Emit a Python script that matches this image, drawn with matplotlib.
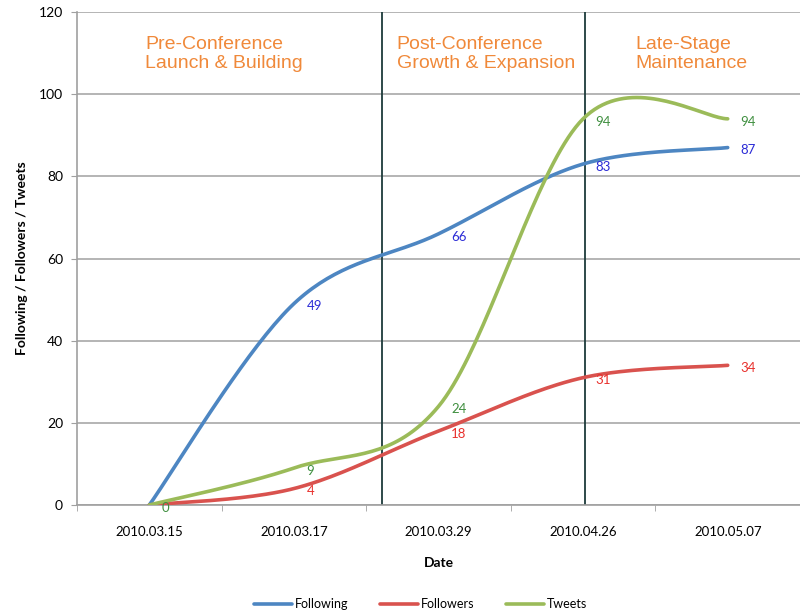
"""twitter account growth: following / followers / tweets by date"""

import numpy as np
import matplotlib
matplotlib.use("Agg")
import matplotlib.pyplot as plt


# data
dates = ["2010.03.15", "2010.03.17", "2010.03.29", "2010.04.26", "2010.05.07"]
following = [0, 49, 66, 83, 87]
followers = [0, 4, 18, 31, 34]
tweets = [0, 9, 24, 94, 94]
phase_names = ["Pre-Conference\nLaunch & Building",
               "Post-Conference\nGrowth & Expansion",
               "Late-Stage\nMaintenance"]
phase_breaks = [1.61, 3.01]
phase_text_x = [-0.03, 1.71, 3.36]


def excel_smooth(xs, ys, steps=40):
    # excel-like smoothed line: bezier segments with catmull-rom control points
    pts = np.column_stack([xs, ys]).astype(float)
    n = len(pts)
    out = []
    for i in range(n - 1):
        p0 = pts[max(i - 1, 0)]
        p1 = pts[i]
        p2 = pts[i + 1]
        p3 = pts[min(i + 2, n - 1)]
        c1 = p1 + (p2 - p0) / 6.0
        c2 = p2 - (p3 - p1) / 6.0
        t = np.linspace(0, 1, steps)[:, None]
        seg = ((1 - t) ** 3) * p1 + 3 * ((1 - t) ** 2) * t * c1 \
            + 3 * (1 - t) * t ** 2 * c2 + t ** 3 * p2
        out.append(seg if i == 0 else seg[1:])
    out = np.vstack(out)
    return out[:, 0], out[:, 1]


TICK_FONT = "Lato"
plt.rcParams["font.family"] = [TICK_FONT, "DejaVu Sans"]

fig = plt.figure(figsize=(8, 6.12), dpi=100)
ax = fig.add_axes([77 / 800, 1 - 505 / 612, 1 - 77 / 800, (505 - 12) / 612])

x = np.arange(len(dates))
series = [
    ("Following", following, "#4d86c2", "#2b2bd6"),
    ("Followers", followers, "#d9524e", "#e8302c"),
    ("Tweets", tweets, "#9bbb59", "#3f8f3f"),
]
for name, vals, color, lab_color in series:
    sx, sy = excel_smooth(x, vals)
    ax.plot(sx, sy, color=color, lw=2.6, label=name, solid_capstyle="round", zorder=3)

# data labels (right of point); the three zero labels overlap, only the green one shows
for name, vals, color, lab_color in series:
    for i, v in enumerate(vals):
        if i == 0 and name != "Tweets":
            continue
        ax.annotate(str(v), (x[i], v), xytext=(9, -2), textcoords="offset points",
                    ha="left", va="center", color=lab_color, fontsize=9.5, zorder=4)

for b in phase_breaks:
    ax.axvline(b, color="#1d3a3a", lw=1.3, zorder=2)

for tx, name in zip(phase_text_x, phase_names):
    ax.text(tx, 109.8, name, ha="left", va="center", color="#f0893a",
            fontsize=14, family="Liberation Sans", linespacing=1.1)

ax.set_xlim(-0.5, 4.46)
ax.set_ylim(0, 120)
ax.set_yticks(np.arange(0, 121, 20))
ax.set_xticks(x)
ax.set_xticklabels(dates, fontsize=9.5)
ax.set_xticks(np.arange(-0.5, 4.6, 1.0), minor=True)
ax.tick_params(axis="x", which="major", length=0, pad=15)
ax.tick_params(axis="x", which="minor", length=4, color="#a0a0a0")
ax.tick_params(axis="y", length=4, color="#a0a0a0", labelsize=10, pad=6)
ax.grid(axis="y", color="#a8a8a8", lw=1.2, zorder=1)
ax.set_axisbelow(True)
for s in ["top", "right"]:
    ax.spines[s].set_visible(False)
for s in ["left", "bottom"]:
    ax.spines[s].set_color("#a0a0a0")
    ax.spines[s].set_linewidth(1.2)

ax.set_xlabel("Date", fontsize=10, fontweight="bold", labelpad=14)
ax.set_ylabel("Following / Followers / Tweets", fontsize=10, fontweight="bold", labelpad=8)

fig.legend(loc="center", bbox_to_anchor=(0.526, 0.013), ncol=3, frameon=False,
           fontsize=9, handlelength=3.0, columnspacing=2.5, handletextpad=0.3)

fig.savefig("out.png", dpi=100)
